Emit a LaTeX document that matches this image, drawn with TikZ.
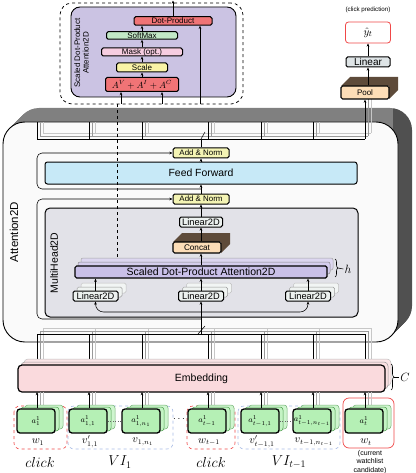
\documentclass[tikz,border=0pt]{standalone}
\usepackage{fontspec}
\setmainfont{Liberation Sans}
\usetikzlibrary{arrows.meta,decorations.pathreplacing,calc}
\definecolor{redbox}{HTML}{F07476}
\definecolor{softgreen}{HTML}{C2E8C6}
\definecolor{maskpink}{HTML}{F6CDE0}
\definecolor{scaleyel}{HTML}{F9F3A6}
\definecolor{purplebg}{HTML}{CBC3E3}
\definecolor{sdpacol}{HTML}{C9C0E8}
\definecolor{ffblue}{HTML}{C7E9F7}
\definecolor{addnorm}{HTML}{F4F4B4}
\definecolor{mhgray}{HTML}{E2E2E8}
\definecolor{lintwo}{HTML}{ECF1EF}
\definecolor{peach}{HTML}{FCDDB7}
\definecolor{brownsh}{HTML}{5E4B3A}
\definecolor{linearbox}{HTML}{DEE4E6}
\definecolor{embpink}{HTML}{FADADD}
\definecolor{ingreen}{HTML}{B5F0B5}
\definecolor{aface}{HTML}{FAFAFA}
\definecolor{atop}{HTML}{808080}
\definecolor{aside}{HTML}{505050}
\definecolor{redline}{HTML}{F04848}
\definecolor{bluedash}{HTML}{A9BCE6}
\begin{document}
\begin{tikzpicture}[x=1pt,y=-1pt,
  box/.style={draw=black,line width=1pt,rounded corners=1.6pt,inner sep=0pt,align=center},
  arr/.style={-{Stealth[length=3.2pt,width=2.6pt]},line width=0.55pt},
  fs/.style={font=\fontsize{#1}{#1}\selectfont},
  thinl/.style={line width=0.55pt}
]
\useasboundingbox (0,0) rectangle (415,473);
\fill[white] (0,0) rectangle (415,473);

% ---------- top-left detail box ----------
\node[draw,dashed,line width=0.75pt,rounded corners=12pt,minimum width=183pt,minimum height=101pt,inner sep=0pt] (sdwrap) at (151.5,53.5) {};
\node[draw,line width=0.9pt,fill=purplebg,rounded corners=9pt,minimum width=165pt,minimum height=90pt,inner sep=0pt] (sdin) at (153.5,52) {};
\node[rotate=90,align=center,font=\fontsize{8}{8.6}\selectfont] (sdlbl) at (81.5,53) {Scaled Dot-Product\\Attention2D};
\node[box,fill=redbox,minimum width=78pt,minimum height=8.5pt,fs=8] (dp) at (173,21) {Dot-Product};
\node[box,fill=softgreen,minimum width=71pt,minimum height=7.5pt,fs=8] (smax) at (142,35.5) {SoftMax};
\node[box,fill=maskpink,minimum width=81pt,minimum height=8pt,fs=8] (mask) at (142,52) {Mask (opt.)};
\node[box,fill=scaleyel,minimum width=51pt,minimum height=9pt,fs=8] (scale) at (142,67.5) {Scale};
\node[box,fill=redbox,minimum width=73pt,minimum height=14pt,fs=9] (sum) at (142,84.5) {$A^V+A^I+A^C$};
\draw[arr] (sum.north) -- (scale.south);
\draw[arr] (scale.north) -- (mask.south);
\draw[arr] (mask.north) -- (smax.south);
\draw[arr] (smax.north) -- (smax.north |- dp.south);
\coordinate (dpout) at (173,0.5);
\draw[arr] (dp.north) -- (dpout);
\coordinate (q1) at (121,104);
\coordinate (q2) at (162,104);
\coordinate (q3) at (200,104);
\draw[arr] (q1) -- (q1 |- sum.south);
\draw[arr] (q2) -- (q2 |- sum.south);
\draw[arr] (q3) -- (q3 |- dp.south);

% ---------- Attention2D 3D box ----------
\begin{scope}
\clip (0,0) rectangle (393,473);
\foreach \i in {1,...,14}{\fill[atop,rounded corners=22pt] ({3+\i},{122-\i}) rectangle ({398+\i},{342-\i});}
\end{scope}
\begin{scope}
\clip (393,0) rectangle (415,473);
\foreach \i in {1,...,14}{\fill[aside,rounded corners=22pt] ({3+\i},{122-\i}) rectangle ({398+\i},{342-\i});}
\end{scope}
\node[draw,line width=0.9pt,fill=aface,rounded corners=22pt,minimum width=395pt,minimum height=220pt,inner sep=0pt] (att) at (200.5,232) {};
\node[rotate=90,fs=11.5] (attlbl) at (14,232) {Attention2D};

% top bus
\foreach \o/\clr in {6/black!22,3/black!40}{
  \draw[\clr,thinl] ({37+\o},{139-\o}) -- ({365+\o},{139-\o});
  \foreach \c in {37,89,142,208,261,313}{\draw[\clr,thinl] ({\c+\o},{139-\o}) -- ({\c+\o},122);}
  \draw[\clr,thinl] ({365+\o},{139-\o}) -- ({365+\o},99);
}
\draw[thinl] (37,139) -- (365,139);
\foreach \c in {37,89,142,208,261,313}{\draw[thinl] (\c,139) -- (\c,122);}
\coordinate (tbus) at (201,139);
\draw[thinl] (tbus) -- (205,132);

% feed forward block
\node[box,fill=addnorm,minimum width=56pt,minimum height=10pt,fs=7.9] (an1) at (201,153) {Add \& Norm};
\node[box,fill=ffblue,rounded corners=2.5pt,minimum width=312pt,minimum height=22pt,fs=10.4] (ff) at (201,173) {Feed Forward};
\node[box,fill=addnorm,minimum width=56pt,minimum height=10pt,fs=7.9] (an2) at (201,199) {Add \& Norm};
\draw[thinl] (an1.north) -- (tbus);
\draw[arr] (ff.north) -- (an1.south);
\draw[arr] (an2.north) -- (ff.south);
\coordinate (r1) at (201,189);
\draw[arr,rounded corners=5pt] (r1) -- (37,189) -- (37,153) -- (an1.west);
\coordinate (r2) at (201,319);
\draw[arr,rounded corners=5pt] (r2) -- (37,319) -- (37,199) -- (an2.west);

% multihead
\node[box,fill=mhgray,rounded corners=5pt,minimum width=313pt,minimum height=109pt] (mh) at (201.5,262.5) {};
\node[rotate=90,fs=10.5] (mhlbl) at (54,263) {MultiHead2D};
\node[box,fill=lintwo,minimum width=43pt,minimum height=10pt,fs=9.3] (lintop) at (201,222) {Linear2D};
\fill[brownsh] (173,242) -- (182,233) -- (230,233) -- (230,244) -- (221,253) -- (221,242) -- cycle;
\node[box,fill=peach,line width=1.1pt,minimum width=48pt,minimum height=11pt,fs=8.2] (concat) at (197,247.5) {Concat};
\draw[arr] (concat.north -| lintop.south) -- (lintop.south);
\draw[arr] (lintop.north) -- (an2.south);

% dashed link to detail box
\coordinate (dq) at (117,104);
\draw[dashed,line width=0.75pt] (dq) -- (117,262);

% SDPA stack
\draw[fill=sdpacol!65,draw=black!35,line width=0.5pt,rounded corners=2pt] (81,258) rectangle (333,270);
\draw[fill=sdpacol!80,draw=black!45,line width=0.5pt,rounded corners=2pt] (78,262) rectangle (330,274);
\node[box,fill=sdpacol,line width=1.2pt,minimum width=252pt,minimum height=12pt,fs=10.5] (sdpa) at (201,272) {Scaled Dot-Product Attention2D};
\draw[arr] (sdpa.north) -- (sdpa.north |- concat.south);
\draw[decorate,decoration={brace,amplitude=3pt},thinl] (335,259) -- (335,277);
\coordinate (hb) at (338,268);
\node[fs=12,inner sep=1pt] (hlbl) at (348,269) {$h$};
\draw[thinl] (hb) -- (hlbl.west);

% Linear2D stacks
\foreach \n/\c in {L/95.5,M/201,R/308}{
  \draw[fill=lintwo!70,draw=black!25,line width=0.5pt,rounded corners=1.6pt] ({\c-22.5+8},283) rectangle ({\c+22.5+8},293);
  \draw[fill=lintwo!85,draw=black!40,line width=0.5pt,rounded corners=1.6pt] ({\c-22.5+4},287) rectangle ({\c+22.5+4},297);
  \node[box,fill=lintwo,minimum width=45pt,minimum height=10pt,fs=9.3] (lin\n) at (\c,296) {Linear2D};
  \draw[arr] (lin\n.north) -- (lin\n.north |- sdpa.south);
}
\draw[{Stealth[length=3.2pt,width=2.6pt]}-{Stealth[length=3.2pt,width=2.6pt]},thinl,rounded corners=8pt] (linL.south) -- (linL.south |- 0,312) -- (linR.south |- 0,312) -- (linR.south);

% bottom bus
\foreach \o/\clr in {6/black!22,3/black!40}{
  \draw[\clr,thinl] ({37+\o},{334-\o}) -- ({365+\o},{334-\o});
  \foreach \c in {37,89,142,208,261,313,365}{\draw[\clr,thinl] ({\c+\o},{334-\o}) -- ({\c+\o},{365-\o});}
}
\draw[thinl] (37,334) -- (365,334);
\foreach \c in {37,89,142,208,261,313,365}{\draw[thinl] (\c,334) -- (\c,365);}
\coordinate (bbus) at (201,334);
\draw[arr] (bbus) -- (linM.south);
\draw[thinl] (198,334) -- (205,326);

% Embedding
\draw[fill=embpink!70,draw=black!25,line width=0.5pt,rounded corners=4pt] (24,359) rectangle (391,386);
\draw[fill=embpink!85,draw=black!40,line width=0.5pt,rounded corners=4pt] (21,362) rectangle (388,389);
\node[box,fill=embpink,line width=1.2pt,rounded corners=4pt,minimum width=367pt,minimum height=27pt,fs=10.5] (emb) at (201.5,378.5) {Embedding};
\draw[decorate,decoration={brace,amplitude=3pt},thinl] (391,364) -- (391,390);
\coordinate (cb) at (394,377);
\node[fs=12,inner sep=1pt] (clbl) at (405,377) {$C$};
\draw[thinl] (cb) -- (clbl.west);

% top-right: pool, linear, prediction
\fill[brownsh] (341,86) -- (350,77) -- (398,77) -- (398,90) -- (389,99) -- (389,86) -- cycle;
\node[box,fill=peach,line width=1.1pt,minimum width=48pt,minimum height=13pt,fs=8] (pool) at (365,92.5) {Pool};
\node[box,fill=linearbox,minimum width=44pt,minimum height=10pt,fs=10] (lin) at (368,62) {Linear};
\node[draw=redline,line width=0.8pt,fill=white,rounded corners=3pt,minimum width=45pt,minimum height=21pt,inner sep=0pt,fs=11] (yhat) at (368,32.5) {$\hat{y}_t$};
\node[fs=6.2] (cpred) at (368,10) {(click prediction)};
\coordinate (pin) at (365,139);
\draw[arr] (pin) -- (pool.south);
\draw[arr] (pool.north -| lin.south) -- (lin.south);
\draw[arr] (lin.north) -- (yhat.south);

% input groups
\draw[redline,dashed,line width=0.6pt,rounded corners=6pt] (14,406) rectangle (67,449);
\draw[bluedash,dashed,line width=0.6pt,rounded corners=6pt] (68,406) rectangle (173,449);
\draw[redline,dashed,line width=0.6pt,rounded corners=6pt] (187,406) rectangle (235,449);
\draw[bluedash,dashed,line width=0.6pt,rounded corners=6pt] (238,406) rectangle (340,449);
\draw[redline,line width=0.7pt,rounded corners=6pt] (343,398) rectangle (394,448);

\foreach \i/\c/\lab/\sub in {1/37/{a^1_1}/{w_1},2/89/{a^1_{1,1}}/{v'_{1,1}},3/142/{a^1_{1,n_1}}/{v_{1,n_1}},4/208/{a^1_{t-1}}/{w_{t-1}},5/261/{a^1_{t-1,1}}/{v'_{t-1,1}},6/313/{a^1_{t-1,n_{t-1}}}/{v_{t-1,n_{t-1}}},7/365/{a^1_t}/{w_t}}{
  \draw[black!35,thinl] ({\c+3},407) -- ({\c+3},392);
  \draw[black!22,thinl] ({\c+6},405) -- ({\c+6},392);
  \draw[fill=ingreen!65,draw=green!45!black!55,line width=0.5pt,rounded corners=3pt] ({\c-20+8},405) rectangle ({\c+18+8},429);
  \draw[fill=ingreen!80,draw=green!45!black!70,line width=0.5pt,rounded corners=3pt] ({\c-20+4},407) rectangle ({\c+18+4},431);
  \node[box,rounded corners=3pt,line width=1.3pt,fill=ingreen,minimum width=38pt,minimum height=24pt,fs=8] (in\i) at ({\c-1},421) {$\lab$};
  \coordinate (e\i) at (\c,392);
  \draw[arr] (in\i.north -| e\i) -- (e\i);
  \node[fs=10.5,inner sep=0pt] (s\i) at ({\c+1},442) {$\sub$};
}
\draw[dotted,black!60,thinl] (in2.east) -- (in3.west);
\draw[dotted,black!60,thinl] (in5.east) -- (in6.west);
\node[fs=10,inner sep=0pt] (dots) at (179,419) {$\cdots$};

\node[fs=14,inner sep=0pt] (g1) at (40,462) {$click$};
\node[fs=14,inner sep=0pt] (g2) at (120,462) {$VI_1$};
\node[fs=14,inner sep=0pt] (g3) at (211,462) {$click$};
\node[fs=14,inner sep=0pt] (g4) at (289,462) {$VI_{t-1}$};
\node[align=center,inner sep=0pt,font=\fontsize{7}{8.3}\selectfont] (cand) at (370,462) {(current\\watchlist\\candidate)};
\end{tikzpicture}
\end{document}
